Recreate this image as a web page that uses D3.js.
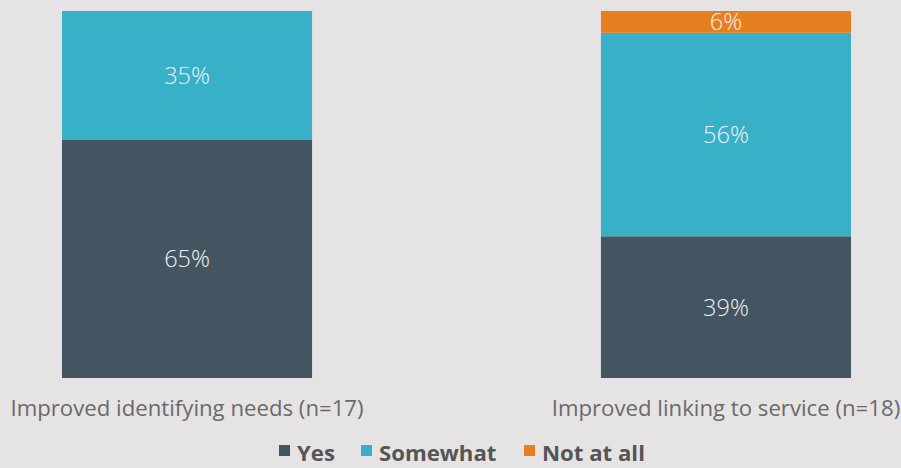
<!DOCTYPE html>
<html>
<head>
<meta charset="utf-8">
<script src="https://cdn.jsdelivr.net/npm/d3@7/dist/d3.min.js"></script>
<style>
  html, body { margin: 0; padding: 0; background: #e6e3e4; }
  svg { display: block; font-family: "Open Sans", "Noto Sans", sans-serif; }
</style>
</head>
<body>
<svg id="chart" width="901" height="468"></svg>
<script>
// Survey outcomes, percent of respondents per measure
const categories = ["Improved identifying needs (n=17)", "Improved linking to service (n=18)"];
const seriesNames = ["Yes", "Somewhat", "Not at all"];
const yesValues = [65, 39];
const somewhatValues = [35, 56];
const notAtAllValues = [0, 6];

const colors = ["#435561", "#38b0c8", "#e57f20"];

const svg = d3.select("#chart");
const plotTop = 11, plotBottom = 378;

const x = d3.scaleBand()
  .domain(categories)
  .range([62, 851])
  .paddingInner(0.536)
  .paddingOuter(0);

const color = d3.scaleOrdinal().domain(seriesNames).range(colors);

const rows = categories.map((c, i) => ({
  category: c,
  "Yes": yesValues[i],
  "Somewhat": somewhatValues[i],
  "Not at all": notAtAllValues[i]
}));

const stacked = d3.stack().keys(seriesNames)(rows);

// each bar fills the full height, scaled to its own total
const yFor = row => d3.scaleLinear()
  .domain([0, d3.sum(seriesNames, k => row[k])])
  .range([plotBottom, plotTop]);

const g = svg.append("g");

stacked.forEach(layer => {
  layer.forEach(seg => {
    const row = seg.data;
    const val = seg[1] - seg[0];
    if (val <= 0) return;
    const y = yFor(row);
    const x0 = x(row.category), bw = x.bandwidth();
    g.append("rect")
      .attr("x", x0)
      .attr("y", y(seg[1]))
      .attr("width", bw)
      .attr("height", y(seg[0]) - y(seg[1]))
      .attr("fill", color(layer.key));
    g.append("text")
      .attr("x", x0 + bw / 2)
      .attr("y", (y(seg[0]) + y(seg[1])) / 2)
      .attr("dy", "0.36em")
      .attr("text-anchor", "middle")
      .attr("fill", "#f2f2f2")
      .attr("font-size", 23.5)
      .attr("font-weight", 300)
      .text(val + "%");
  });
});

// category axis
const axis = d3.axisBottom(x).tickSize(0).tickPadding(0);
const ax = svg.append("g").attr("transform", `translate(0,${plotBottom})`).call(axis);
ax.select(".domain").remove();
ax.selectAll("text")
  .attr("y", 38)
  .attr("dy", 0)
  .attr("fill", "#6a6a6a")
  .attr("font-size", 22.2)
  .attr("font-weight", 400)
  .attr("font-family", "\"Open Sans\", sans-serif");

// legend
const legendItems = [
  { name: "Yes", x: 279 },
  { name: "Somewhat", x: 361 },
  { name: "Not at all", x: 524 }
];
const lg = svg.append("g");
legendItems.forEach(it => {
  lg.append("rect")
    .attr("x", it.x).attr("y", 445)
    .attr("width", 11).attr("height", 11)
    .attr("fill", color(it.name));
  lg.append("text")
    .attr("x", it.x + 18).attr("y", 461)
    .attr("fill", "#555555")
    .attr("font-size", 22.2)
    .attr("font-weight", "bold")
    .text(it.name);
});
</script>
</body>
</html>
